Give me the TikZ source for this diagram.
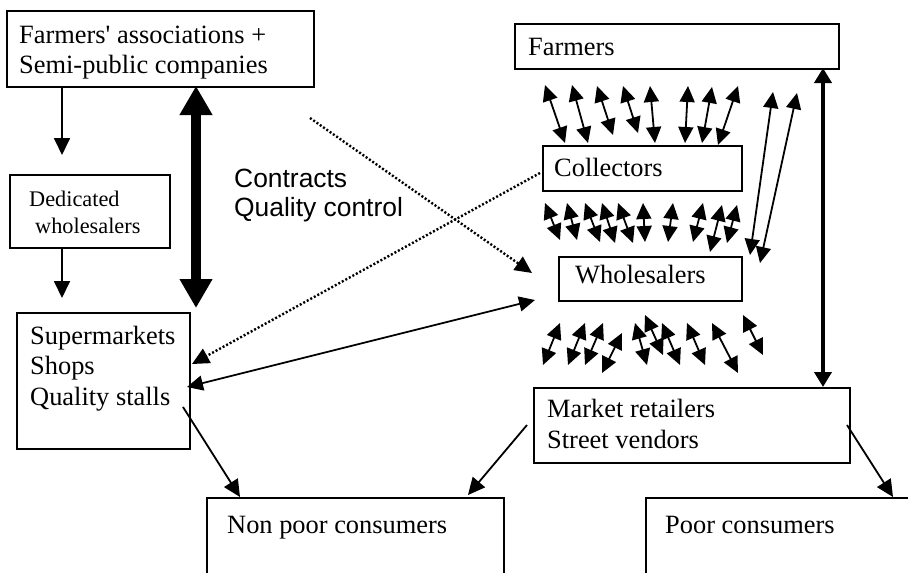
\documentclass[tikz,border=0pt]{standalone}
\usepackage{fontspec}
\setmainfont{Liberation Serif}[Ligatures=TeXOff]
\newfontfamily\arialf{Liberation Sans}
\usetikzlibrary{arrows.meta,calc}
\begin{document}
\begin{tikzpicture}[x=1pt,y=-1pt,
  box/.style={draw,line width=1.8pt,inner sep=0pt,anchor=north west},
  txt/.style={anchor=base west,inner sep=0pt,font=\fontsize{26.4}{30}\selectfont},
  smalltxt/.style={anchor=base west,inner sep=0pt,font=\fontsize{22.3}{27}\selectfont},
  sanstxt/.style={anchor=base west,inner sep=0pt,font=\arialf\fontsize{26.4}{30}\selectfont},
  conn/.style={line width=1.8pt,-{Triangle[length=17pt,width=16pt]}},
  dbl/.style={line width=1.8pt,{Triangle[length=16pt,width=15pt]}-{Triangle[length=16pt,width=15pt]}},
  dots/.style={line width=2.4pt,dash pattern=on 2pt off 2pt,-{Triangle[length=17pt,width=16pt]}},
  heavy/.style={line width=10pt,{Triangle[length=29pt,width=31pt]}-{Triangle[length=29pt,width=31pt]}},
  medium/.style={line width=4.5pt,{Triangle[length=15pt,width=17pt]}-{Triangle[length=15pt,width=17pt]}}]
\useasboundingbox (0,0) rectangle (908,573);
\clip (0,0) rectangle (908,573);
% boxes
\node[box,minimum width=307pt,minimum height=76pt] (assoc) at (6,10) {};
\node[box,minimum width=160pt,minimum height=73pt] (dedic) at (9,174) {};
\node[box,minimum width=173pt,minimum height=136pt] (super) at (16,312) {};
\node[box,minimum width=324pt,minimum height=45pt] (farmers) at (514,23) {};
\node[box,minimum width=199pt,minimum height=45pt] (coll) at (542,145) {};
\node[box,minimum width=183pt,minimum height=44pt] (whole) at (558,256) {};
\node[box,minimum width=316pt,minimum height=75pt] (market) at (533,387) {};
\node[box,minimum width=297pt,minimum height=100pt] (nonpoor) at (206,497) {};
\node[box,minimum width=280pt,minimum height=100pt] (poor) at (645,497) {};
% texts
\node[txt] (t1) at (19,43) {Farmers' associations +};
\node[txt] (t2) at (19,73) {Semi-public companies};
\node[smalltxt] (t3) at (29,206) {Dedicated};
\node[smalltxt] (t4) at (35,233) {wholesalers};
\node[txt] (t5) at (30,344) {Supermarkets};
\node[txt] (t6) at (30,374) {Shops};
\node[txt] (t7) at (30,405) {Quality stalls};
\node[txt] (t8) at (528,55) {Farmers};
\node[txt] (t9) at (554,176) {Collectors};
\node[txt] (t10) at (575,283) {Wholesalers};
\node[txt] (t11) at (547,417) {Market retailers};
\node[txt] (t12) at (547,448) {Street vendors};
\node[txt] (t13) at (227,533) {Non poor consumers};
\node[txt] (t14) at (665,533) {Poor consumers};
\node[sanstxt] (t15) at (234,187) {Contracts};
\node[sanstxt] (t16) at (234,216) {Quality control};
% free connector ends
\coordinate (aEnd) at (62,155);
\coordinate (dStart) at (62,247);
\coordinate (dEnd) at (62,298);
\coordinate (hTop) at (196,86);
\coordinate (hBot) at (196,308);
\coordinate (dotA) at (310,118);
\coordinate (dotAend) at (532,273);
\coordinate (dotB) at (540,173);
\coordinate (dotBend) at (192,364);
\coordinate (wsR) at (535,300);
\coordinate (wsL) at (187,387);
\coordinate (sOut) at (183,407);
\coordinate (npIn1) at (240,497);
\coordinate (mOutL) at (527,425);
\coordinate (npIn2) at (468,495);
\coordinate (mOutR) at (847,425);
\coordinate (pIn) at (893,497);
\coordinate (fmTop) at (823,68);
\coordinate (fmBot) at (823,387);
% connectors
\draw[conn] (assoc.south -| aEnd) -- (aEnd);
\draw[conn] (dStart) -- (dEnd);
\draw[heavy] (hTop) -- (hBot);
\draw[dots] (dotA) -- (dotAend);
\draw[dots] (dotB) -- (dotBend);
\draw[dbl] (wsR) -- (wsL);
\draw[conn] (sOut) -- (npIn1);
\draw[conn] (mOutL) -- (npIn2);
\draw[conn] (mOutR) -- (pIn);
\draw[medium] (fmTop) -- (fmBot);
% small two-way flows
\foreach \a/\b/\c/\d in {545/85/565/143, 572/85/588/143, 597/86/613/135, 623/86/638/133,
  650/86/655/143, 688/86/685/143, 712/87/702/143, 738/86/718/145,
  773/92/750/255, 797/93/760/263,
  545/203/560/240, 567/203/577/240, 585/203/600/242, 602/203/615/243, 618/203/633/243,
  643/203/645/242, 673/203/668/242, 703/203/693/242, 722/205/710/252, 737/205/727/243,
  560/323/543/365, 585/323/568/365, 603/323/585/365, 622/333/602/373, 635/323/647/365,
  645/315/663/355, 662/323/680/365, 687/323/705/365, 712/323/738/373, 743/315/763/355}
  \draw[dbl] (\a,\b) -- (\c,\d);
\end{tikzpicture}
\end{document}
